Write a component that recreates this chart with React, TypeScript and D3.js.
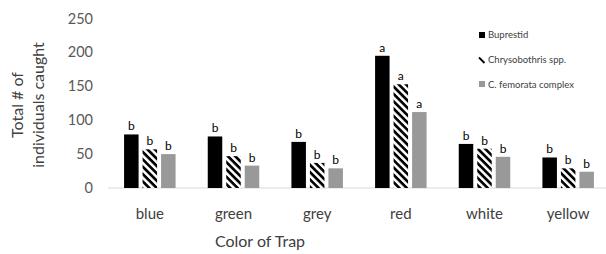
import React from 'react'
import * as d3 from 'd3'

const colors = ['blue', 'green', 'grey', 'red', 'white', 'yellow']
const seriesNames = ['Buprestid', 'Chrysobothris spp.', 'C. femorata complex']
const buprestid = [79, 76, 68, 195, 65, 45]
const chrysobothris = [57, 47, 37, 153, 58, 29]
const femorata = [50, 33, 29, 112, 46, 24]
const bupLetters = ['b', 'b', 'b', 'a', 'b', 'b']
const chryLetters = ['b', 'b', 'b', 'a', 'b', 'b']
const femLetters = ['b', 'b', 'b', 'a', 'b', 'b']
const yTicks = [0, 50, 100, 150, 200, 250]

const FONT = 'Lato, "Open Sans", sans-serif'

const App = () => {
    const W = 606
    const H = 254
    const left = 108
    const right = 610
    const top = 18.5
    const bottom = 188

    const series = [
        { name: seriesNames[0], values: buprestid, letters: bupLetters, fill: '#000' },
        { name: seriesNames[1], values: chrysobothris, letters: chryLetters, fill: 'url(#hatch)' },
        { name: seriesNames[2], values: femorata, letters: femLetters, fill: '#999' }
    ]

    const x = d3.scaleBand().domain(colors).range([left, right])
    const bw = 14.5
    const gap = 4
    const groupW = bw * 3 + gap * 2
    const inner = d3.scaleBand().domain(seriesNames).range([0, groupW]).paddingInner(gap / (bw + gap))
    const y = d3.scaleLinear().domain([0, 250]).range([bottom, top])

    return (
        <svg width={W} height={H} style={{ position: 'absolute', left: 0, top: 0, background: '#fff' }}>
            <defs>
                <pattern id="hatch" patternUnits="userSpaceOnUse" width="5.2" height="5.2" patternTransform="rotate(45)">
                    <rect width="5.2" height="5.2" fill="#fff" />
                    <rect width="5.2" height="2.7" fill="#000" />
                </pattern>
            </defs>

            {/* y tick labels */}
            {yTicks.map(t => (
                <text key={t} x={93} y={y(t)} dy="0.35em" textAnchor="end" fontFamily={FONT} fontSize={14.5} fill="#595959">{t}</text>
            ))}

            {/* axis line */}
            <line x1={left} x2={right} y1={bottom} y2={bottom} stroke="#d9d9d9" strokeWidth={1} />

            {/* bars */}
            {colors.map((c, i) => {
                const gx = (x(c) as number) + (x.bandwidth() - groupW) / 2
                return (
                    <g key={c}>
                        {series.map(s => {
                            const bx = gx + (inner(s.name) as number)
                            const v = s.values[i]
                            return (
                                <g key={s.name}>
                                    <rect x={bx} y={y(v)} width={inner.bandwidth()} height={bottom - y(v)} fill={s.fill} />
                                    <text x={bx + inner.bandwidth() / 2} y={y(v) - 4} textAnchor="middle" fontFamily={FONT} fontSize={12} fill="#000">{s.letters[i]}</text>
                                </g>
                            )
                        })}
                        <text x={(x(c) as number) + x.bandwidth() / 2} y={214} dy="0.35em" textAnchor="middle" fontFamily={FONT} fontSize={15} fill="#404040">{c}</text>
                    </g>
                )
            })}

            {/* axis titles */}
            <text x={260} y={241} dy="0.35em" textAnchor="middle" fontFamily={FONT} fontSize={16} fill="#404040">Color of Trap</text>
            <g transform="translate(17,105) rotate(-90)">
                <text x={0} y={0} dy="0.35em" textAnchor="middle" fontFamily={FONT} fontSize={16} fill="#404040">Total # of</text>
                <text x={0} y={21} dy="0.35em" textAnchor="middle" fontFamily={FONT} fontSize={16} fill="#404040">individuals caught</text>
            </g>

            {/* legend */}
            <rect x={479} y={32} width={6} height={6} fill="#000" />
            <line x1={479} y1={57.5} x2={484.5} y2={63} stroke="#000" strokeWidth={1.8} />
            <rect x={479} y={81} width={6} height={6} fill="#999" />
            {seriesNames.map((n, i) => (
                <text key={n} x={488} y={35 + i * 25} dy="0.35em" fontFamily={FONT} fontSize={9.5} fill="#404040">{n}</text>
            ))}
        </svg>
    )
}

export default App
